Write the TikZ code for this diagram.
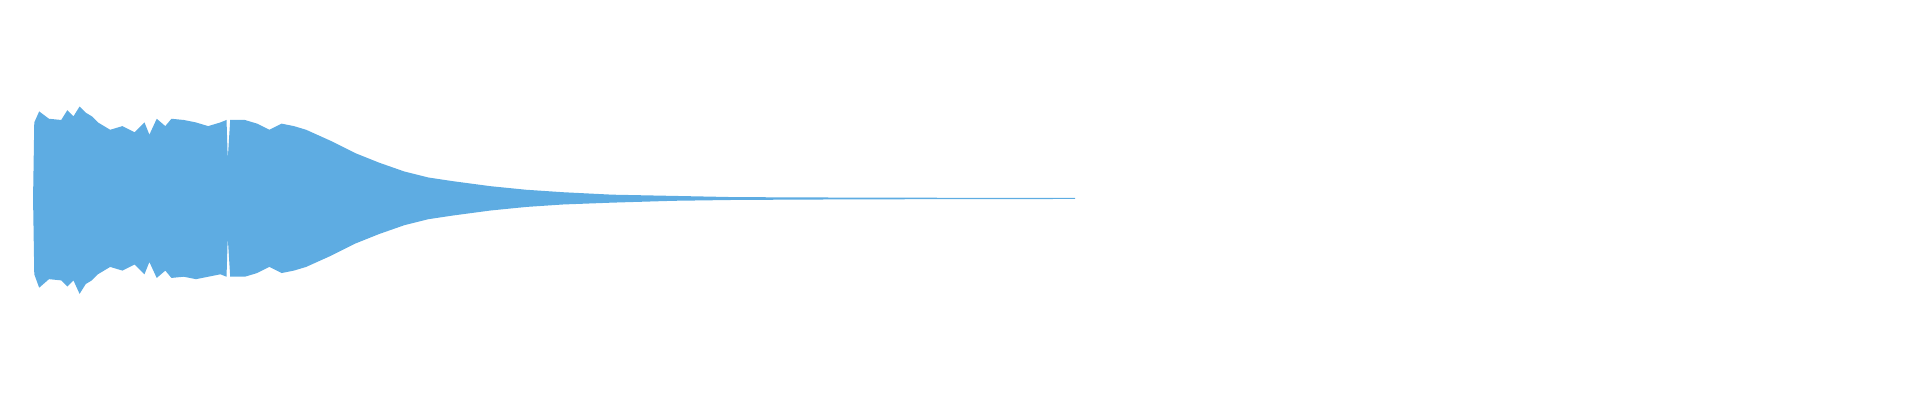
\documentclass[tikz,border=0pt]{standalone}
\definecolor{wave}{RGB}{94,172,226}
\begin{document}
\begin{tikzpicture}[x=0.01cm,y=-0.01cm]
\useasboundingbox (0,0) rectangle (1568,326.7);
\fill[wave] (27,162) -- (28,100) -- (32,91) -- (40,97) -- (50,98) -- (55,90) -- (60,95) -- (65,87) -- (70,92) -- (75,95) -- (80,100) -- (85,103) -- (90,106) -- (100,103) -- (110,108) -- (118,100) -- (122,110) -- (128,97) -- (135,103) -- (140,97) -- (150,98) -- (160,100) -- (170,103) -- (180,100) -- (185,98) -- (186,130) -- (188,98) -- (200,98) -- (210,101) -- (220,106) -- (230,101) -- (240,103) -- (250,106) -- (270,115) -- (290,125) -- (310,133) -- (330,140) -- (350,145) -- (370,148) -- (400,152) -- (430,155) -- (460,157) -- (500,159) -- (550,160) -- (600,161) -- (700,161.4) -- (878,161.7)
 -- (878,162.5) -- (700,162.8) -- (600,163.3) -- (550,164) -- (500,165.5) -- (460,167) -- (430,169) -- (400,172) -- (370,176) -- (350,179) -- (330,184) -- (310,191) -- (290,199) -- (270,209) -- (250,218) -- (240,221) -- (230,223) -- (220,218) -- (210,223) -- (200,226) -- (188,226) -- (186,194) -- (185,226) -- (180,224) -- (170,226) -- (160,228) -- (150,226) -- (140,227) -- (135,221) -- (128,227) -- (122,214) -- (118,224) -- (110,216) -- (100,221) -- (90,218) -- (85,221) -- (80,224) -- (75,229) -- (70,232) -- (65,240) -- (60,229) -- (55,234) -- (50,229) -- (40,228) -- (32,235) -- (28,224) -- cycle;
\end{tikzpicture}
\end{document}
